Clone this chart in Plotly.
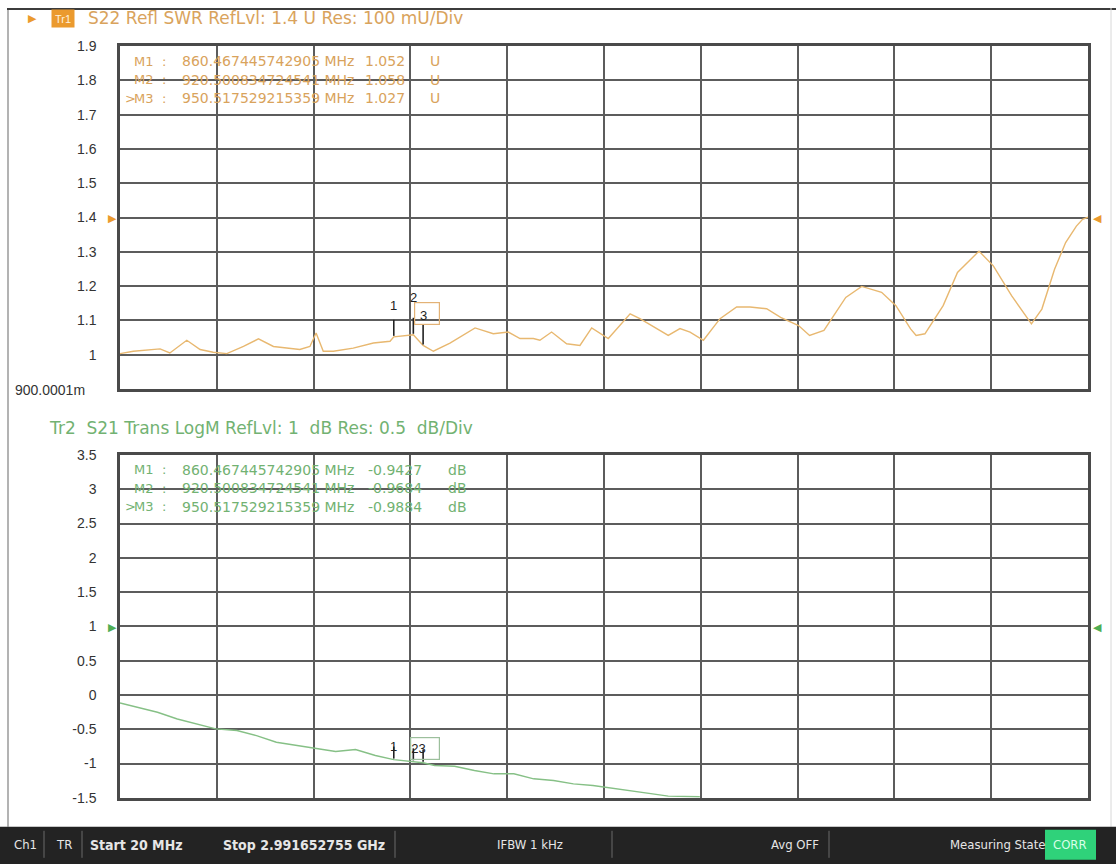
import plotly.graph_objects as go

# ---- sweep settings -------------------------------------------------------
F_START_MHZ = 20.0
F_STOP_MHZ = 2991.652755

# ---- Tr1: S22 SWR trace ---------------------------------------------------
swr_freq_mhz = [20, 61, 143, 173, 225, 266, 306, 348, 399, 445, 491, 572, 603, 622,
                644, 675, 736, 798, 849, 982, 1033, 1110, 1166, 1212, 1248, 1289,
                1309, 1345, 1391, 1432, 1468, 1519, 1586, 1616, 1657, 1703, 1739,
                1770, 1811, 1862, 1913, 1954, 2005, 2048, 2103, 2137, 2181, 2248,
                2297, 2358, 2402, 2447, 2464, 2491, 2547, 2591, 2657, 2701, 2757,
                2818, 2850, 2889, 2923, 2956, 2975, 2991.65]
swr_value = [1.003, 1.010, 1.017, 1.005, 1.042, 1.015, 1.007, 1.003, 1.024, 1.046,
             1.024, 1.015, 1.024, 1.063, 1.010, 1.010, 1.019, 1.034, 1.039, 1.010,
             1.034, 1.078, 1.061, 1.066, 1.047, 1.047, 1.042, 1.066, 1.032, 1.027,
             1.078, 1.047, 1.119, 1.105, 1.081, 1.056, 1.076, 1.066, 1.042, 1.105,
             1.139, 1.139, 1.134, 1.109, 1.085, 1.056, 1.071, 1.167, 1.199, 1.182,
             1.143, 1.075, 1.056, 1.061, 1.143, 1.240, 1.302, 1.259, 1.172, 1.090,
             1.133, 1.249, 1.327, 1.375, 1.395, 1.401]

# ---- Tr2: S21 transmission trace (dB) -------------------------------------
s21_freq_mhz = [20, 75, 135, 196, 257, 314, 379, 439, 500, 561, 622, 682, 743, 804,
                986, 1047, 1108, 1168, 1229, 1290, 1351, 1412, 1472, 1533, 1594,
                1655, 1703, 1751, 1800]
s21_db = [-0.117, -0.180, -0.252, -0.350, -0.422, -0.495, -0.519, -0.592, -0.689,
          -0.738, -0.786, -0.825, -0.796, -0.883, -1.029, -1.039, -1.102, -1.150,
          -1.150, -1.223, -1.248, -1.296, -1.320, -1.359, -1.393, -1.442, -1.476,
          -1.480, -1.485]

# ---- markers ----------------------------------------------------------------
marker_names = ["M1", "M2", "M3"]
marker_freq_mhz = [860.467445742905, 920.500834724541, 950.517529215359]
marker_freq_text = ["860.467445742905", "920.500834724541", "950.517529215359"]
marker_swr = [1.052, 1.058, 1.027]
marker_s21_db = [-0.9427, -0.9684, -0.9884]
active_marker = 2

# ---- axis tick labels -------------------------------------------------------
swr_ticks = [0.9, 1.0, 1.1, 1.2, 1.3, 1.4, 1.5, 1.6, 1.7, 1.8, 1.9]
swr_ticktext = ["", "1", "1.1", "1.2", "1.3", "1.4", "1.5", "1.6", "1.7", "1.8", "1.9"]
s21_ticks = [-1.5, -1.0, -0.5, 0.0, 0.5, 1.0, 1.5, 2.0, 2.5, 3.0, 3.5]
s21_ticktext = ["-1.5", "-1", "-0.5", "0", "0.5", "1", "1.5", "2", "2.5", "3", "3.5"]

SWR_RANGE = [0.9, 1.9]
S21_RANGE = [-1.5, 3.5]
SWR_REF = 1.4
S21_REF = 1.0

# page geometry (the page adds an 8 px body margin and is shown 0.982x tall)
W, H = 1116, 872
PAGE_TOP = 7.9
PAGE_SY = 0.982
ORANGE = "#eb9a2e"
ORANGE_TXT = "#d9a35c"
ORANGE_TRACE = "#e8b870"
GREEN = "#4fae55"
GREEN_TXT = "#72b272"
GREEN_TRACE = "#86c086"
GRID = "#5c5c5c"
FONT = "Liberation Sans"
TXT_FONT = "DejaVu Sans"

# plot boxes in screen pixels
TOP_BOX = (46, 389)
BOT_BOX = (455, 798)


def px(x):
    return x / W


def py(y):
    return 1 - ((y - PAGE_TOP) / PAGE_SY) / H


def merged(f, v, mf, mv):
    pts = sorted(list(zip(f, v)) + list(zip(mf, mv)))
    return [p[0] for p in pts], [p[1] for p in pts]


swr_x, swr_y = merged(swr_freq_mhz, swr_value, marker_freq_mhz, marker_swr)
s21_x, s21_y = merged(s21_freq_mhz, s21_db, marker_freq_mhz, marker_s21_db)

# value just below each plot's bottom edge, for the marker position arrows
swr_below = SWR_RANGE[0] - (SWR_RANGE[1] - SWR_RANGE[0]) * 8 / (TOP_BOX[1] - TOP_BOX[0])
s21_below = S21_RANGE[0] - (S21_RANGE[1] - S21_RANGE[0]) * 8 / (BOT_BOX[1] - BOT_BOX[0])

fig = go.Figure()
fig.add_trace(go.Scatter(x=swr_x, y=swr_y, mode="lines", xaxis="x", yaxis="y",
                         line=dict(color=ORANGE_TRACE, width=1.4), hoverinfo="skip"))
fig.add_trace(go.Scatter(x=s21_x, y=s21_y, mode="lines", xaxis="x2", yaxis="y2",
                         line=dict(color=GREEN_TRACE, width=1.4), hoverinfo="skip"))
fig.add_trace(go.Scatter(x=marker_freq_mhz, y=[swr_below] * len(marker_freq_mhz),
                         mode="markers", xaxis="x", yaxis="y", cliponaxis=False,
                         marker=dict(symbol="triangle-up", size=11, color="#111111"),
                         hoverinfo="skip"))
fig.add_trace(go.Scatter(x=marker_freq_mhz, y=[s21_below] * len(marker_freq_mhz),
                         mode="markers", xaxis="x2", yaxis="y2", cliponaxis=False,
                         marker=dict(symbol="triangle-up", size=11, color="#111111"),
                         hoverinfo="skip"))

dx = (F_STOP_MHZ - F_START_MHZ) / 10
xcommon = dict(range=[F_START_MHZ, F_STOP_MHZ], tick0=F_START_MHZ, dtick=dx,
               showticklabels=False, ticks="", showgrid=True, gridcolor=GRID,
               gridwidth=1.5, zeroline=False, showline=True, mirror=True,
               linecolor="#4a4a4a", linewidth=2.5, domain=[px(120), px(1088)])
ycommon = dict(ticks="", showgrid=True, gridcolor=GRID, gridwidth=1.5,
               zeroline=False, showline=True, mirror=True, linecolor="#4a4a4a",
               linewidth=2.5, ticklabelstandoff=18,
               tickfont=dict(family=FONT, size=14, color="#333333"))

fig.update_layout(
    width=W, height=H, autosize=False,
    margin=dict(l=0, r=0, t=0, b=0),
    paper_bgcolor="white", plot_bgcolor="white", showlegend=False,
    xaxis=dict(anchor="y", **xcommon),
    xaxis2=dict(anchor="y2", **xcommon),
    yaxis=dict(anchor="x", range=SWR_RANGE, tickvals=swr_ticks, ticktext=swr_ticktext,
               domain=[py(TOP_BOX[1]), py(TOP_BOX[0])], **ycommon),
    yaxis2=dict(anchor="x2", range=S21_RANGE, tickvals=s21_ticks, ticktext=s21_ticktext,
                domain=[py(BOT_BOX[1]), py(BOT_BOX[0])], **ycommon),
)

shapes = []
ann = []


def text_at(x, y, text, size, color, family=TXT_FONT, anchor="left"):
    ann.append(dict(xref="paper", yref="paper", x=px(x), y=py(y), text=text,
                    showarrow=False, font=dict(family=family, size=size, color=color),
                    xanchor=anchor, yanchor="middle"))


# window frame
shapes.append(dict(type="line", xref="paper", yref="paper", x0=px(8), x1=px(8),
                   y0=1, y1=py(827), line=dict(color="#9a9a9a", width=1.5)))
shapes.append(dict(type="line", xref="paper", yref="paper", x0=px(7), x1=1,
                   y0=py(9), y1=py(9), line=dict(color="#3c3c3c", width=2)))
shapes.append(dict(type="line", xref="paper", yref="paper", x0=px(1111), x1=px(1111),
                   y0=1, y1=py(827), line=dict(color="#d8d8d8", width=1)))

# trace headers
text_at(32, 18, "▶", 11, ORANGE, anchor="center")
ann.append(dict(xref="paper", yref="paper", x=px(62.5), y=py(18), text="Tr1", showarrow=False,
                font=dict(family=FONT, size=11, color="#fff1dc"), bgcolor=ORANGE,
                width=20, height=15, xanchor="center", yanchor="middle"))
text_at(86, 18, f"S22 Refl SWR RefLvl: {SWR_REF:g} U Res: 100 mU/Div", 17, ORANGE_TXT)
text_at(47, 428, f"Tr2  S21 Trans LogM RefLvl: {S21_REF:g}  dB Res: 0.5  dB/Div", 17, GREEN_TXT)

# bottom-scale label of Tr1
text_at(87, 390, "900.0001m", 14, "#333333", family=FONT, anchor="right")

# reference level arrows
for yr, val, col in (("y", SWR_REF, ORANGE), ("y2", S21_REF, GREEN)):
    ann.append(dict(xref="paper", yref=yr, x=px(112), y=val, text="▶", showarrow=False,
                    font=dict(size=11, color=col), xanchor="center", yanchor="middle"))
    ann.append(dict(xref="paper", yref=yr, x=px(1097), y=val, text="◀", showarrow=False,
                    font=dict(size=11, color=col), xanchor="center", yanchor="middle"))

# marker readout tables (fixed columns)
for i, name in enumerate(marker_names):
    for y0, col, val, unit, vx, ux in (
        (61 + 18.5 * i, ORANGE_TXT, f"{marker_swr[i]:.3f}", "U", 363, 428),
        (470 + 18.5 * i, GREEN_TXT, f"{marker_s21_db[i]:.4f}", "dB", 366, 446),
    ):
        if i == active_marker:
            text_at(123, y0, ">", 13, col)
        text_at(132, y0, name, 13, col)
        text_at(160, y0, ":", 13, col)
        text_at(180, y0, f"{marker_freq_text[i]} MHz", 14, col)
        text_at(vx, y0, val, 14, col)
        text_at(ux, y0, unit, 14, col)

# marker flags on the traces
top_label_shift = [31, 37, 30]
for i, f in enumerate(marker_freq_mhz):
    shapes.append(dict(type="line", xref="x", yref="y", x0=f, x1=f, ysizemode="pixel",
                       yanchor=marker_swr[i], y0=1, y1=17 if i < 2 else 21,
                       line=dict(color="#222222", width=1.6)))
    ann.append(dict(xref="x", yref="y", x=f, y=marker_swr[i], yshift=top_label_shift[i],
                    text=str(i + 1), showarrow=False,
                    font=dict(family=FONT, size=13, color="#222222"),
                    xanchor="center", yanchor="middle"))
    shapes.append(dict(type="line", xref="x2", yref="y2", x0=f, x1=f, ysizemode="pixel",
                       yanchor=marker_s21_db[i], y0=1, y1=13,
                       line=dict(color="#222222", width=1.6)))

# active marker boxes
ann.append(dict(xref="x", yref="y", x=marker_freq_mhz[active_marker], y=marker_swr[active_marker],
                xshift=4, yshift=32, text="", showarrow=False, width=24, height=21,
                bordercolor="#e3b276", borderwidth=1.2, borderpad=0,
                xanchor="center", yanchor="middle"))
ann.append(dict(xref="x2", yref="y2", x=marker_freq_mhz[0], y=marker_s21_db[0],
                yshift=13, text="1", showarrow=False,
                font=dict(family=FONT, size=13, color="#222222"),
                xanchor="center", yanchor="middle"))
ann.append(dict(xref="x2", yref="y2", x=marker_freq_mhz[1], y=marker_s21_db[1],
                xshift=-3, yshift=13, text="23", showarrow=False, width=28, height=21,
                bordercolor="#9cbf9c", borderwidth=1.2, borderpad=0, align="left",
                font=dict(family=FONT, size=13, color="#222222"),
                xanchor="left", yanchor="middle"))

# status bar
shapes.append(dict(type="rect", xref="paper", yref="paper", x0=0, x1=1, y0=0, y1=py(827),
                   fillcolor="#232323", line=dict(width=0), layer="above"))
for sx in (44, 82, 395, 612, 829):
    shapes.append(dict(type="line", xref="paper", yref="paper", x0=px(sx), x1=px(sx),
                       y0=py(831), y1=py(858), line=dict(color="#6a6a6a", width=1), layer="above"))
shapes.append(dict(type="rect", xref="paper", yref="paper", x0=px(1045), x1=px(1096),
                   y0=py(860), y1=py(830), fillcolor="#2fd27a", line=dict(width=0), layer="above"))

status_items = [
    ("Ch1", 25, False), ("TR", 64, False), ("Start 20 MHz", 136, True),
    ("Stop 2.991652755 GHz", 304, True), ("IFBW 1 kHz", 530, False),
    ("Avg OFF", 795, False), ("Measuring State", 998, False),
]
for text, cx, bold in status_items:
    text_at(cx, 845, f"<b>{text}</b>" if bold else text, 14 if bold else 13, "#e6e6e6",
            family="DejaVu Sans Condensed", anchor="center")
text_at(1070, 845, "CORR", 13, "#d8ffe8", family="DejaVu Sans Condensed", anchor="center")

fig.update_layout(shapes=shapes, annotations=ann)
fig.write_html("out.html")
